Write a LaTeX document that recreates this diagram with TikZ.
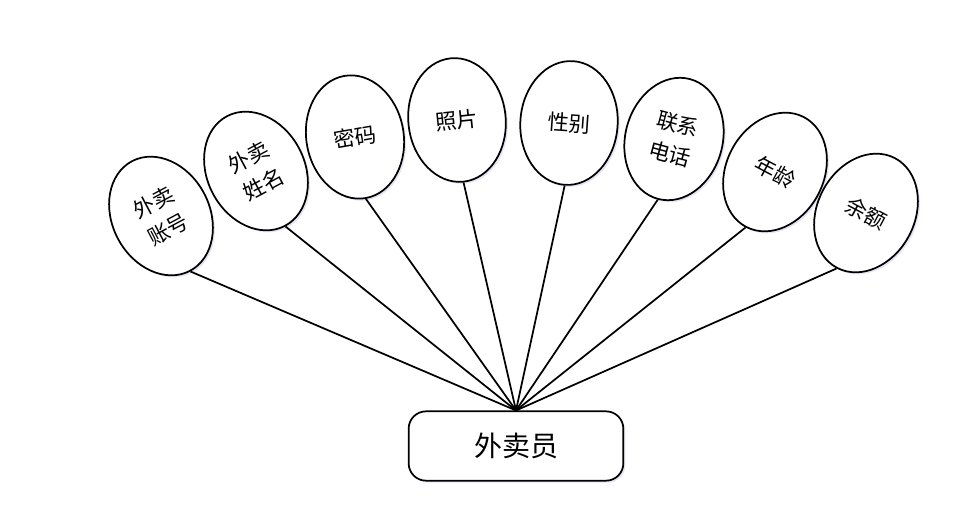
\documentclass[tikz,border=0pt]{standalone}
\usepackage{fontspec}
\newfontfamily\cjkfont{Noto Sans CJK SC}
\usetikzlibrary{shapes.geometric, shadows}

\begin{document}
\begin{tikzpicture}[
    x=0.75pt, y=0.75pt,
    font=\cjkfont,
    % Styles definition
    base/.style={
        draw=black, line width=1.3pt, fill=white, align=center, inner sep=0pt,
        drop shadow={opacity=0.15, shadow xshift=1.5pt, shadow yshift=-1.5pt, color=blue!40!gray}
    },
    attr/.style={base, ellipse, minimum width=73pt, minimum height=93pt, font=\cjkfont\fontsize{16}{23}\selectfont},
    entity/.style={base, rectangle, rounded corners=13pt, minimum width=161pt, minimum height=52pt, font=\cjkfont\fontsize{21}{25}\selectfont},
    link/.style={draw=black, line width=1.3pt}
]
\useasboundingbox (0,0) rectangle (975,-521);

% 1. Entity
\node[entity] (courier) at (516,-446) {外卖员};

% 2. Attributes
\node[attr, rotate=28] (account) at (161,-216) {外卖\\账号};
\node[attr, rotate=28] (name) at (256,-171) {外卖\\姓名};
\node[attr, rotate=10] (password) at (355,-137) {密码};
\node[attr, rotate=6] (photo) at (457,-120) {照片};
\node[attr, rotate=-4] (gender) at (569,-123) {性别};
\node[attr, rotate=-15] (phone) at (674,-139) {联系\\电话};
\node[attr, rotate=-28] (age) at (775,-172) {年龄};
\node[attr, rotate=-28] (balance) at (866,-213) {余额};

% --- Links ---
\foreach \a in {account, name, password, photo, gender, phone, age, balance}
    \draw[link] (\a.south) -- (courier.north);

\end{tikzpicture}
\end{document}
